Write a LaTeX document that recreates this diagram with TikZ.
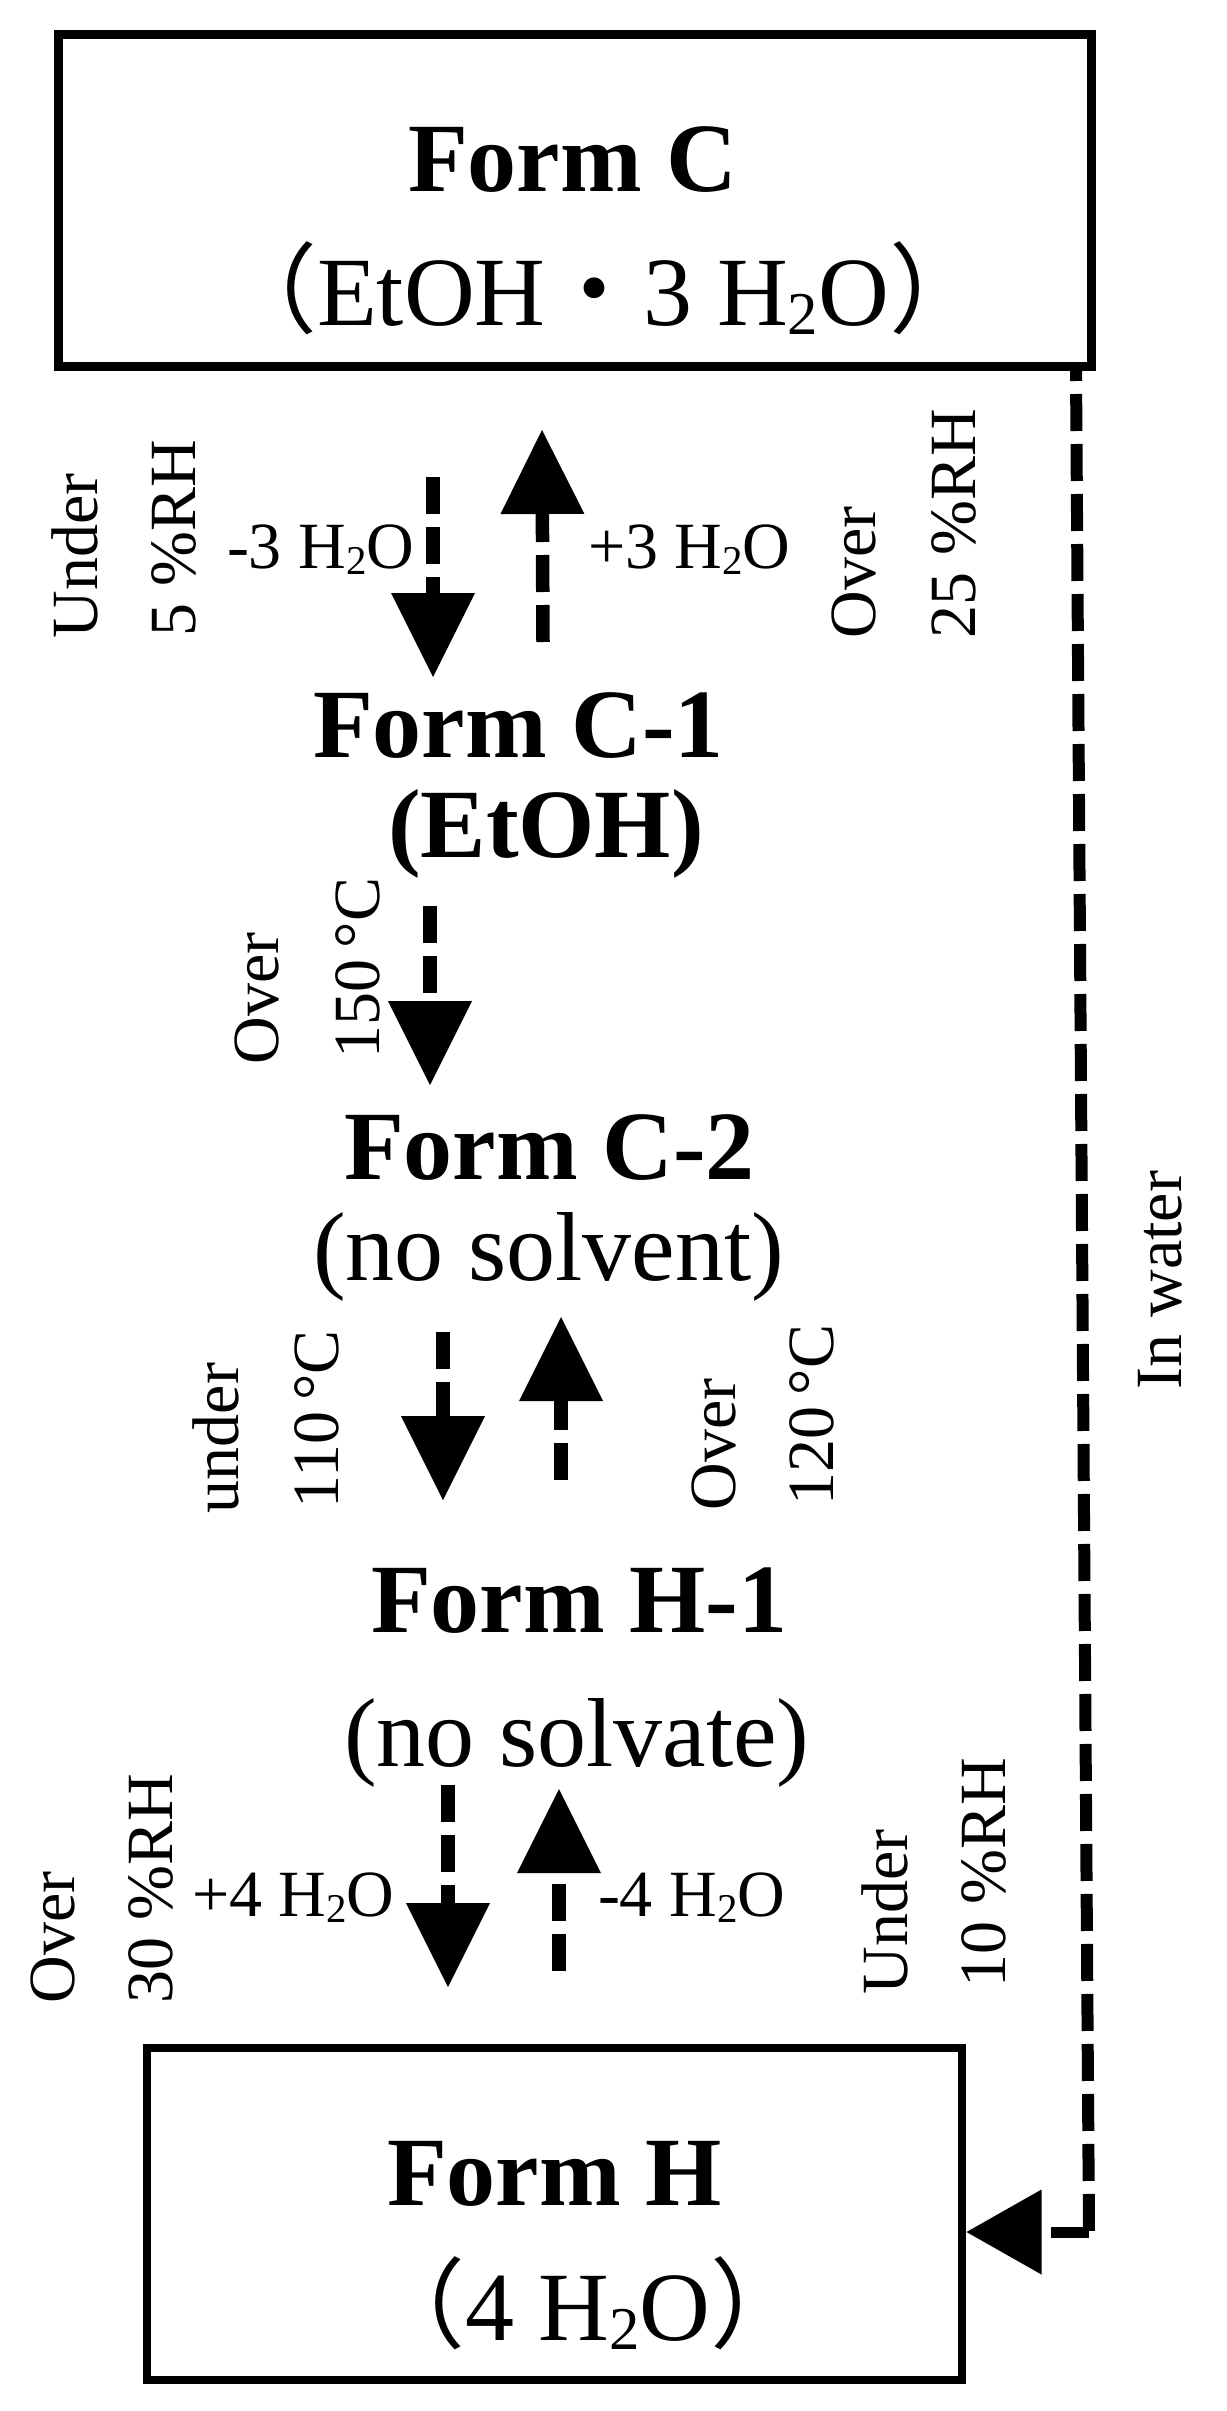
\documentclass[tikz,border=0pt]{standalone}
\usepackage{fontspec}
\usepackage{graphicx}
\setmainfont{Liberation Serif}
\newfontfamily\cjk{Noto Sans CJK JP}
\usetikzlibrary{arrows.meta}
\newcommand\bigsz{\fontsize{98}{100}\selectfont}
\newcommand\smsz{\fontsize{66}{70}\selectfont}
\newcommand\hto{H\raisebox{-0.1em}{\scalebox{0.62}{2}}O}
\tikzset{
  lbl/.style={inner sep=0pt, outer sep=0pt, font=\smsz, anchor=base west},
  rlbl/.style={lbl, rotate=90},
  mtext/.style={inner sep=0pt, outer sep=0pt, font=\bigsz, anchor=base west},
  btext/.style={mtext, font=\bigsz\bfseries},
  formbox/.style={draw, line width=9pt, inner sep=0pt, outer sep=0pt},
  flow/.style={line width=13.5pt, dash pattern=on 37pt off 13pt,
    -{Triangle[length=84pt,width=84pt,line width=0pt]}},
  water/.style={line width=12pt, dash pattern=on 37pt off 13pt, dash phase=27pt},
}
\begin{document}
\begin{tikzpicture}[x=1pt,y=-1pt]
\fill[white] (0,0) rectangle (1226,2411);
\useasboundingbox (0,0) rectangle (1226,2411);

% boxes
\node[formbox, minimum width=1032.5pt, minimum height=332pt] (formC) at (574.75,200.5) {};
\node[formbox, line width=8.5pt, minimum width=815pt, minimum height=332pt] (formH) at (554.5,2214) {};

% main texts
\node[btext] (tC1) at (408,192) {Form C};
\node[mtext] (tC2) at (219,325) {{\cjk （}EtOH{\cjk ・}3 \hto{\cjk ）}};
\node[btext] (tC11) at (313,757) {Form C-1};
\node[btext] (tC12) at (388,857) {(EtOH)};
\node[btext] (tC21) at (344,1179) {Form C-2};
\node[mtext] (tC22) at (313,1280) {(no solvent)};
\node[btext] (tH11) at (371,1632) {Form H-1};
\node[mtext] (tH12) at (344,1766) {(no solvate)};
\node[btext] (tH1) at (387,2205) {Form H};
\node[mtext] (tH2) at (367,2340) {{\cjk （}4 \hto{\cjk ）}};

% horizontal labels
\node[lbl] (l1) at (227,568) {-3 \hto};
\node[lbl] (l2) at (588,568) {+3 \hto};
\node[lbl] (l3) at (192,1916) {+4 \hto};
\node[lbl] (l4) at (598,1916) {-4 \hto};

% rotated labels
\node[rlbl] (r1) at (97,638) {Under};
\node[rlbl] (r2) at (195,636) {5 \%RH};
\node[rlbl] (r3) at (875,638) {Over};
\node[rlbl] (r4) at (975,638) {25 \%RH};
\node[rlbl] (r5) at (278,1064) {Over};
\node[rlbl] (r6) at (379,1058) {150\,°C};
\node[rlbl] (r7) at (238,1513) {under};
\node[rlbl] (r8) at (338,1508) {110\,°C};
\node[rlbl] (r9) at (735,1510) {Over};
\node[rlbl] (r10) at (833,1505) {120\,°C};
\node[rlbl] (r11) at (74,2003) {Over};
\node[rlbl] (r12) at (172,2003) {30 \%RH};
\node[rlbl] (r13) at (907,1994) {Under};
\node[rlbl] (r14) at (1005,1987) {10 \%RH};
\node[rlbl] (r15) at (1181,1389) {In water};

% arrow end points
\coordinate (a1s) at (433,477);  \coordinate (a1e) at (433,677);
\coordinate (a2s) at (543,642);  \coordinate (a2e) at (542,430);
\coordinate (a3s) at (430,906);  \coordinate (a3e) at (430,1085);
\coordinate (a4s) at (443,1332); \coordinate (a4e) at (443,1500);
\coordinate (a5s) at (561,1480); \coordinate (a5e) at (561,1317);
\coordinate (a6s) at (448,1785); \coordinate (a6e) at (448,1987);
\coordinate (a7s) at (559,1971); \coordinate (a7e) at (559,1789);

\draw[flow] (a1s) -- (a1e);
\draw[flow] (a2s) -- (a2e);
\draw[flow] (a3s) -- (a3e);
\draw[flow] (a4s) -- (a4e);
\draw[flow] (a5s) -- (a5e);
\draw[flow] (a6s) -- (a6e);
\draw[flow] (a7s) -- (a7e);

% in water connector
\coordinate (wtop) at (1076,371);
\coordinate (wcorner) at (1089,2232);
\coordinate (wtip) at (966.5,2232);
\draw[water] (wtop) -- (wcorner);
\draw[line width=11pt, dash pattern=on 38pt off 13pt,
  -{Triangle[length=75pt,width=85pt,line width=0pt]}] (wcorner) -- (wtip);
\end{tikzpicture}
\end{document}
